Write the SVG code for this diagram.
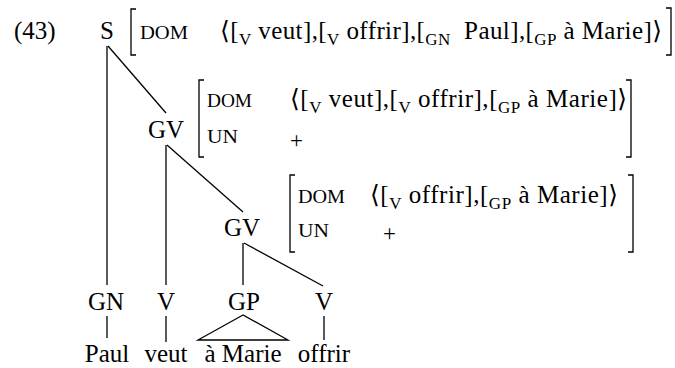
<svg xmlns="http://www.w3.org/2000/svg" width="675" height="368" viewBox="0 0 675 368" font-family="'Liberation Serif', 'DejaVu Serif', 'Times New Roman', serif">
<style>
text{fill:#000;font-size:25px}
.n{text-anchor:middle}
.sc{font-size:18px}
.pl{font-size:23px}
.sub{font-size:17px}
.pre{white-space:pre}
.ln{stroke:#000;stroke-width:1.3;fill:none}
.br{stroke:#000;stroke-width:1.3;fill:none}
</style>
<rect width="675" height="368" fill="#fff"/>
<text x="14" y="39">(43)</text>
<g id="connectors">
<line class="ln" x1="107" y1="46" x2="107" y2="285"/>
<line class="ln" x1="108" y1="46" x2="166" y2="113"/>
<line class="ln" x1="166" y1="145" x2="166" y2="285"/>
<line class="ln" x1="167" y1="145" x2="243" y2="212"/>
<line class="ln" x1="243" y1="243" x2="243" y2="285"/>
<line class="ln" x1="244" y1="243" x2="323" y2="286"/>
<line class="ln" x1="107" y1="316" x2="107" y2="338"/>
<line class="ln" x1="166" y1="316" x2="166" y2="342"/>
<polygon class="ln" points="243,315 198,340 288,340"/>
<line class="ln" x1="324" y1="316" x2="324" y2="340"/>
</g>
<g id="S">
<text class="n" x="107" y="39">S</text>
<path class="br" d="M136,9 H131 V55 H136"/>
<path class="br" d="M666,8 H671 V55 H666"/>
<text class="sc" x="140" y="39" textLength="48" lengthAdjust="spacingAndGlyphs">DOM</text>
<text class="pre" x="220" y="39" textLength="442" lengthAdjust="spacing">⟨[<tspan class="sub" dy="6">V</tspan><tspan dy="-6"> veut],[</tspan><tspan class="sub" dy="6">V</tspan><tspan dy="-6"> offrir],[</tspan><tspan class="sub" dy="6">GN</tspan><tspan dy="-6">  Paul],[</tspan><tspan class="sub" dy="6">GP</tspan><tspan dy="-6"> à Marie]⟩</tspan></text>
</g>
<g id="GV1">
<text class="n" x="166" y="138">GV</text>
<path class="br" d="M204,80 H199 V157 H204"/>
<path class="br" d="M626,80 H631 V157 H626"/>
<text class="sc" x="207" y="107" textLength="45" lengthAdjust="spacingAndGlyphs">DOM</text>
<text class="sc" x="207" y="143" textLength="31" lengthAdjust="spacingAndGlyphs">UN</text>
<text class="pre" x="290" y="107" textLength="337" lengthAdjust="spacing">⟨[<tspan class="sub" dy="6">V</tspan><tspan dy="-6"> veut],[</tspan><tspan class="sub" dy="6">V</tspan><tspan dy="-6"> offrir],[</tspan><tspan class="sub" dy="6">GP</tspan><tspan dy="-6"> à Marie]⟩</tspan></text>
<text x="290" y="148" class="pl">+</text>
</g>
<g id="GV2">
<text class="n" x="242" y="236">GV</text>
<path class="br" d="M295,175 H290 V252 H295"/>
<path class="br" d="M628,175 H633 V252 H628"/>
<text class="sc" x="298" y="203" textLength="47" lengthAdjust="spacingAndGlyphs">DOM</text>
<text class="sc" x="298" y="237" textLength="31" lengthAdjust="spacingAndGlyphs">UN</text>
<text class="pre" x="370" y="203" textLength="248" lengthAdjust="spacing">⟨[<tspan class="sub" dy="6">V</tspan><tspan dy="-6"> offrir],[</tspan><tspan class="sub" dy="6">GP</tspan><tspan dy="-6"> à Marie]⟩</tspan></text>
<text x="383" y="241" class="pl">+</text>
</g>
<g id="GN"><text class="n" x="106" y="310">GN</text><text class="n" x="107" y="362">Paul</text></g>
<g id="V1"><text class="n" x="166" y="310">V</text><text class="n" x="166" y="362">veut</text></g>
<g id="GP"><text class="n" x="244" y="310">GP</text><text class="n" x="243" y="362">à Marie</text></g>
<g id="V2"><text class="n" x="324" y="310">V</text><text class="n" x="324" y="362">offrir</text></g>
</svg>
